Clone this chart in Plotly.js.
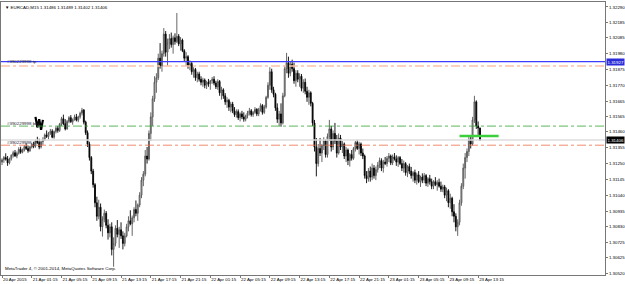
<!DOCTYPE html>
<html><head><meta charset="utf-8">
<script src="https://cdn.plot.ly/plotly-3.0.1.min.js"></script>
<style>html,body{margin:0;padding:0;background:#fff}#c{width:625px;height:284px}</style>
</head><body><div id="c"></div>
<script>
const symbol = "EURCAD,M15";
const xTickBars = [0,16,32,48,64,80,96,112,128,144,160,176,192,208,224,240,256];
const xTickText = ["20 Apr 2015","21 Apr 01:15","21 Apr 05:15","21 Apr 09:15","21 Apr 13:15","21 Apr 17:15","21 Apr 21:15","22 Apr 01:15","22 Apr 05:15","22 Apr 09:15","22 Apr 13:15","22 Apr 17:15","22 Apr 21:15","23 Apr 01:15","23 Apr 05:15","23 Apr 09:15","23 Apr 13:15"];
const yTickVals = [1.32290,1.32185,1.32085,1.31980,1.31875,1.31770,1.31665,1.31565,1.31460,1.31355,1.31250,1.31145,1.31040,1.30935,1.30830,1.30725,1.30625,1.30520];

const open = [
1.31260,1.31275,1.31290,1.31280,1.31255,1.31282,1.31305,1.31322,1.31300,1.31318,
1.31345,1.31325,1.31340,1.31362,1.31350,1.31335,1.31360,1.31378,1.31365,1.31400,
1.31390,1.31360,1.31395,1.31410,1.31440,1.31430,1.31452,1.31465,1.31425,1.31462,
1.31485,1.31470,1.31512,1.31548,1.31515,1.31480,1.31530,1.31555,1.31528,1.31542,
1.31560,1.31538,1.31560,1.31585,1.31605,1.31525,1.31455,1.31380,1.31290,1.31200,
1.31110,1.30990,1.30900,1.30960,1.30830,1.30880,1.30920,1.30840,1.30790,1.30830,
1.30680,1.30720,1.30820,1.30780,1.30810,1.30770,1.30720,1.30770,1.30830,1.30870,
1.30850,1.30890,1.30945,1.30920,1.30975,1.31040,1.31140,1.31180,1.31300,1.31280,
1.31450,1.31560,1.31680,1.31790,1.31820,1.31950,1.31900,1.31980,1.32110,1.31990,
1.32050,1.32080,1.32040,1.32085,1.32060,1.32095,1.32045,1.32070,1.32000,1.31950,
1.31960,1.31900,1.31915,1.31860,1.31875,1.31820,1.31845,1.31810,1.31790,1.31805,
1.31770,1.31790,1.31780,1.31800,1.31810,1.31785,1.31760,1.31795,1.31720,1.31740,
1.31700,1.31660,1.31670,1.31625,1.31645,1.31600,1.31575,1.31595,1.31555,1.31580,
1.31560,1.31545,1.31568,1.31585,1.31600,1.31575,1.31590,1.31610,1.31580,1.31610,
1.31635,1.31590,1.31625,1.31690,1.31770,1.31860,1.31740,1.31710,1.31620,1.31545,
1.31580,1.31520,1.31700,1.31880,1.31920,1.31850,1.31910,1.31880,1.31800,1.31850,
1.31810,1.31830,1.31750,1.31790,1.31730,1.31690,1.31720,1.31650,1.31520,1.31360,
1.31250,1.31350,1.31320,1.31370,1.31400,1.31310,1.31430,1.31480,1.31360,1.31450,
1.31400,1.31320,1.31420,1.31360,1.31380,1.31300,1.31340,1.31270,1.31310,1.31285,
1.31350,1.31390,1.31350,1.31380,1.31320,1.31300,1.31170,1.31150,1.31200,1.31160,
1.31220,1.31170,1.31210,1.31240,1.31270,1.31220,1.31260,1.31250,1.31285,1.31300,
1.31255,1.31295,1.31280,1.31260,1.31290,1.31250,1.31220,1.31250,1.31190,1.31230,
1.31200,1.31170,1.31190,1.31140,1.31175,1.31130,1.31160,1.31140,1.31170,1.31120,
1.31150,1.31130,1.31100,1.31130,1.31110,1.31125,1.31100,1.31080,1.31095,1.31040,
1.31070,1.30990,1.31020,1.30930,1.30900,1.30830,1.30860,1.30990,1.31100,1.31220,
1.31290,1.31330,1.31410,1.31380,1.31540,1.31660,1.31500,1.31486];

const high = [
1.31285,1.31300,1.31318,1.31300,1.31290,1.31312,1.31335,1.31340,1.31330,1.31358,
1.31362,1.31350,1.31372,1.31385,1.31370,1.31368,1.31388,1.31395,1.31410,1.31428,
1.31415,1.31400,1.31425,1.31450,1.31470,1.31460,1.31480,1.31478,1.31470,1.31495,
1.31500,1.31520,1.31560,1.31575,1.31545,1.31540,1.31565,1.31572,1.31550,1.31575,
1.31580,1.31568,1.31595,1.31620,1.31612,1.31535,1.31470,1.31395,1.31300,1.31215,
1.31120,1.31030,1.31010,1.30985,1.30900,1.30945,1.30935,1.30880,1.30850,1.30860,
1.30760,1.30840,1.30875,1.30830,1.30860,1.30800,1.30790,1.30850,1.30900,1.30940,
1.30905,1.30960,1.31005,1.30985,1.31060,1.31160,1.31200,1.31340,1.31360,1.31470,
1.31590,1.31700,1.31830,1.31850,1.31980,1.32050,1.32000,1.32150,1.32130,1.32080,
1.32110,1.32120,1.32100,1.32115,1.32250,1.32110,1.32090,1.32080,1.32010,1.31990,
1.31970,1.31935,1.31925,1.31890,1.31885,1.31860,1.31860,1.31830,1.31820,1.31815,
1.31800,1.31812,1.31805,1.31825,1.31830,1.31800,1.31810,1.31805,1.31760,1.31750,
1.31718,1.31690,1.31680,1.31660,1.31660,1.31625,1.31610,1.31610,1.31590,1.31600,
1.31590,1.31575,1.31600,1.31620,1.31612,1.31600,1.31625,1.31618,1.31620,1.31650,
1.31645,1.31640,1.31700,1.31790,1.31890,1.31880,1.31760,1.31720,1.31650,1.31600,
1.31650,1.31720,1.31900,1.31985,1.31960,1.31930,1.31940,1.31920,1.31870,1.31870,
1.31850,1.31845,1.31810,1.31815,1.31760,1.31740,1.31730,1.31660,1.31540,1.31420,
1.31380,1.31420,1.31380,1.31425,1.31410,1.31450,1.31540,1.31500,1.31470,1.31520,
1.31440,1.31450,1.31440,1.31400,1.31390,1.31360,1.31350,1.31320,1.31340,1.31360,
1.31400,1.31408,1.31395,1.31390,1.31350,1.31310,1.31200,1.31220,1.31230,1.31250,
1.31240,1.31230,1.31260,1.31290,1.31285,1.31275,1.31294,1.31300,1.31320,1.31310,
1.31310,1.31320,1.31305,1.31300,1.31300,1.31280,1.31270,1.31260,1.31240,1.31250,
1.31228,1.31200,1.31210,1.31190,1.31200,1.31170,1.31185,1.31188,1.31180,1.31160,
1.31175,1.31150,1.31140,1.31160,1.31140,1.31150,1.31130,1.31110,1.31108,1.31090,
1.31080,1.31050,1.31030,1.30980,1.30920,1.30880,1.31010,1.31120,1.31250,1.31320,
1.31350,1.31430,1.31440,1.31560,1.31700,1.31670,1.31530,1.31489];

const low = [
1.31240,1.31255,1.31270,1.31235,1.31245,1.31270,1.31290,1.31295,1.31285,1.31310,
1.31315,1.31318,1.31330,1.31340,1.31322,1.31328,1.31350,1.31352,1.31355,1.31380,
1.31345,1.31350,1.31375,1.31400,1.31420,1.31410,1.31440,1.31418,1.31415,1.31450,
1.31455,1.31460,1.31500,1.31505,1.31470,1.31475,1.31518,1.31520,1.31508,1.31535,
1.31530,1.31525,1.31548,1.31570,1.31510,1.31440,1.31360,1.31270,1.31180,1.31090,
1.30960,1.30870,1.30880,1.30800,1.30765,1.30860,1.30820,1.30745,1.30760,1.30640,
1.30565,1.30700,1.30760,1.30690,1.30750,1.30680,1.30700,1.30760,1.30800,1.30840,
1.30770,1.30860,1.30900,1.30870,1.30960,1.31020,1.31100,1.31165,1.31250,1.31270,
1.31400,1.31500,1.31660,1.31720,1.31805,1.31880,1.31860,1.31960,1.31960,1.31900,
1.32010,1.32020,1.31980,1.32040,1.32050,1.32030,1.32000,1.31990,1.31930,1.31900,
1.31880,1.31870,1.31840,1.31820,1.31800,1.31790,1.31795,1.31770,1.31760,1.31750,
1.31745,1.31760,1.31740,1.31780,1.31770,1.31745,1.31740,1.31700,1.31675,1.31680,
1.31640,1.31620,1.31600,1.31590,1.31585,1.31560,1.31555,1.31540,1.31530,1.31545,
1.31528,1.31530,1.31550,1.31570,1.31562,1.31560,1.31580,1.31565,1.31565,1.31595,
1.31575,1.31580,1.31615,1.31680,1.31740,1.31720,1.31690,1.31600,1.31520,1.31500,
1.31495,1.31510,1.31690,1.31850,1.31820,1.31830,1.31860,1.31780,1.31760,1.31790,
1.31760,1.31730,1.31720,1.31710,1.31660,1.31640,1.31630,1.31500,1.31330,1.31165,
1.31230,1.31300,1.31260,1.31340,1.31290,1.31290,1.31400,1.31330,1.31340,1.31380,
1.31290,1.31310,1.31340,1.31320,1.31280,1.31260,1.31240,1.31230,1.31270,1.31275,
1.31330,1.31340,1.31310,1.31300,1.31280,1.31150,1.31120,1.31130,1.31130,1.31140,
1.31150,1.31140,1.31190,1.31220,1.31200,1.31190,1.31240,1.31230,1.31260,1.31240,
1.31240,1.31270,1.31235,1.31228,1.31240,1.31200,1.31190,1.31170,1.31160,1.31180,
1.31150,1.31130,1.31120,1.31110,1.31120,1.31095,1.31120,1.31120,1.31100,1.31095,
1.31110,1.31080,1.31080,1.31100,1.31070,1.31090,1.31062,1.31060,1.31020,1.31000,
1.30960,1.30950,1.30900,1.30860,1.30800,1.30770,1.30840,1.30970,1.31080,1.31150,
1.31260,1.31300,1.31350,1.31370,1.31520,1.31480,1.31440,1.31402];

const close = [
1.31275,1.31290,1.31280,1.31255,1.31282,1.31305,1.31322,1.31300,1.31318,1.31345,
1.31325,1.31340,1.31362,1.31350,1.31335,1.31360,1.31378,1.31365,1.31400,1.31390,
1.31360,1.31395,1.31410,1.31440,1.31430,1.31452,1.31465,1.31425,1.31462,1.31485,
1.31470,1.31512,1.31548,1.31515,1.31480,1.31530,1.31555,1.31528,1.31542,1.31560,
1.31538,1.31560,1.31585,1.31605,1.31525,1.31455,1.31380,1.31290,1.31200,1.31110,
1.30990,1.30900,1.30960,1.30830,1.30880,1.30920,1.30840,1.30790,1.30830,1.30680,
1.30720,1.30820,1.30780,1.30810,1.30770,1.30720,1.30770,1.30830,1.30870,1.30850,
1.30890,1.30945,1.30920,1.30975,1.31040,1.31140,1.31180,1.31300,1.31280,1.31450,
1.31560,1.31680,1.31790,1.31820,1.31950,1.31900,1.31980,1.32110,1.31990,1.32050,
1.32080,1.32040,1.32085,1.32060,1.32095,1.32045,1.32070,1.32000,1.31950,1.31960,
1.31900,1.31915,1.31860,1.31875,1.31820,1.31845,1.31810,1.31790,1.31805,1.31770,
1.31790,1.31780,1.31800,1.31810,1.31785,1.31760,1.31795,1.31720,1.31740,1.31700,
1.31660,1.31670,1.31625,1.31645,1.31600,1.31575,1.31595,1.31555,1.31580,1.31560,
1.31545,1.31568,1.31585,1.31600,1.31575,1.31590,1.31610,1.31580,1.31610,1.31635,
1.31590,1.31625,1.31690,1.31770,1.31860,1.31740,1.31710,1.31620,1.31545,1.31580,
1.31520,1.31700,1.31880,1.31920,1.31850,1.31910,1.31880,1.31800,1.31850,1.31810,
1.31830,1.31750,1.31790,1.31730,1.31690,1.31720,1.31650,1.31520,1.31360,1.31250,
1.31350,1.31320,1.31370,1.31400,1.31310,1.31430,1.31480,1.31360,1.31450,1.31400,
1.31320,1.31420,1.31360,1.31380,1.31300,1.31340,1.31270,1.31310,1.31285,1.31350,
1.31390,1.31350,1.31380,1.31320,1.31300,1.31170,1.31150,1.31200,1.31160,1.31220,
1.31170,1.31210,1.31240,1.31270,1.31220,1.31260,1.31250,1.31285,1.31300,1.31255,
1.31295,1.31280,1.31260,1.31290,1.31250,1.31220,1.31250,1.31190,1.31230,1.31200,
1.31170,1.31190,1.31140,1.31175,1.31130,1.31160,1.31140,1.31170,1.31120,1.31150,
1.31130,1.31100,1.31130,1.31110,1.31125,1.31100,1.31080,1.31095,1.31040,1.31070,
1.30990,1.31020,1.30930,1.30900,1.30830,1.30860,1.30990,1.31100,1.31220,1.31290,
1.31330,1.31410,1.31380,1.31540,1.31660,1.31500,1.31486,1.31406];

// order / object levels
const tpLevel = 1.31927;
const tpLevel2 = 1.31898;
const buyLevel = 1.31499;
const slLevel = 1.31372;
const bidLevel = 1.31406;
const trendLevel = 1.31433;
const trendBars = [246, 267];
const buyArrowBars = [18, 19, 20, 21, 22];
const buyArrowPrices = [1.31560, 1.31490, 1.31545, 1.31475, 1.31540];
const orderLabels = ["#390229998 tp", "#390229998 buy", "#390229998 sl"];
const copyright = "MetaTrader 4, © 2001-2014, MetaQuotes Software Corp.";

const bars = open.map((_, i) => i);
const last = open.length - 1;
const fnt = {family: "Liberation Sans, Arial, sans-serif", size: 4.4, color: "#000"};

const trace = {
  type: "candlestick", x: bars, open: open, high: high, low: low, close: close,
  increasing: {line: {color: "#555", width: 0.9}, fillcolor: "#bdbdbd"},
  decreasing: {line: {color: "#000", width: 0.9}, fillcolor: "#000"},
  whiskerwidth: 0, hoverinfo: "skip", showlegend: false
};
const trend = {
  type: "scatter", mode: "lines", x: trendBars, y: [trendLevel, trendLevel],
  line: {color: "#3ccf3c", width: 2.5}, hoverinfo: "skip", showlegend: false
};
const arrow = {
  type: "scatter", mode: "lines", x: buyArrowBars, y: buyArrowPrices,
  line: {color: "#000", width: 2.2}, hoverinfo: "skip", showlegend: false
};

const fmt = v => v.toFixed(5);
const layout = {
  width: 625, height: 284,
  margin: {l: 1, r: 20, t: 2, b: 9},
  paper_bgcolor: "#fff", plot_bgcolor: "#fff",
  font: fnt,
  showlegend: false,
  xaxis: {
    range: [-0.54, 324.2], rangeslider: {visible: false},
    showgrid: false, zeroline: false,
    showline: true, mirror: true, linecolor: "#777", linewidth: 1,
    tickmode: "array", tickvals: xTickBars, ticktext: xTickText, tickangle: 0,
    ticks: "outside", ticklen: 2, tickcolor: "#777",
    ticklabelposition: "outside right", tickfont: fnt, automargin: false
  },
  yaxis: {
    side: "right", range: [1.30510, 1.32323],
    showgrid: false, zeroline: false,
    showline: true, mirror: true, linecolor: "#777", linewidth: 1,
    tickmode: "array", tickvals: yTickVals, ticktext: yTickVals.map(fmt),
    ticks: "outside", ticklen: 2, tickcolor: "#777", tickfont: fnt, automargin: false
  },
  shapes: [
    {type: "line", xref: "paper", x0: 0, x1: 1, yref: "y", y0: tpLevel2, y1: tpLevel2, line: {color: "#fbc3aa", width: 1.5, dash: "dashdot"}},
    {type: "line", xref: "paper", x0: 0, x1: 1, yref: "y", y0: tpLevel, y1: tpLevel, line: {color: "#3c3cff", width: 1.3}},
    {type: "line", xref: "paper", x0: 0, x1: 1, yref: "y", y0: buyLevel, y1: buyLevel, line: {color: "#34a534", width: 0.8, dash: "dashdot"}},
    {type: "line", xref: "paper", x0: 0, x1: 1, yref: "y", y0: bidLevel, y1: bidLevel, line: {color: "#dcdcdc", width: 1.5}},
    {type: "line", xref: "paper", x0: 0, x1: 1, yref: "y", y0: slLevel, y1: slLevel, line: {color: "#ec7048", width: 0.8, dash: "dashdot"}}
  ],
  annotations: [
    {xref: "paper", yref: "paper", x: 0.004, y: 1, yshift: -1, xanchor: "left", yanchor: "top", showarrow: false,
     text: "▼ " + symbol + " " + [open[last], high[last], low[last], close[last]].map(fmt).join(" "), font: fnt},
    {xref: "paper", yref: "paper", x: 0.004, y: 0, yshift: 2, xanchor: "left", yanchor: "bottom", showarrow: false,
     text: copyright, font: fnt},
    {xref: "paper", yref: "y", x: 0.006, y: tpLevel, xanchor: "left", yanchor: "middle", showarrow: false,
     text: orderLabels[0], font: Object.assign({}, fnt, {color: "#223"})},
    {xref: "paper", yref: "y", x: 0.006, y: buyLevel, yshift: 3, xanchor: "left", yanchor: "middle", showarrow: false,
     text: orderLabels[1], font: Object.assign({}, fnt, {color: "#223"})},
    {xref: "paper", yref: "y", x: 0.006, y: slLevel, yshift: 3, xanchor: "left", yanchor: "middle", showarrow: false,
     text: orderLabels[2], font: Object.assign({}, fnt, {color: "#223"})},
    {xref: "paper", yref: "y", x: 1, xshift: 1, y: tpLevel, xanchor: "left", yanchor: "middle", showarrow: false,
     text: fmt(tpLevel), bgcolor: "#2b2bd8", borderpad: 0.5, font: Object.assign({}, fnt, {color: "#fff"})},
    {xref: "paper", yref: "y", x: 1, xshift: 1, y: bidLevel, xanchor: "left", yanchor: "middle", showarrow: false,
     text: fmt(bidLevel), bgcolor: "#000", borderpad: 0.5, font: Object.assign({}, fnt, {color: "#fff"})}
  ]
};

Plotly.newPlot("c", [trace, trend, arrow], layout, {displayModeBar: false, staticPlot: true});
</script></body></html>
